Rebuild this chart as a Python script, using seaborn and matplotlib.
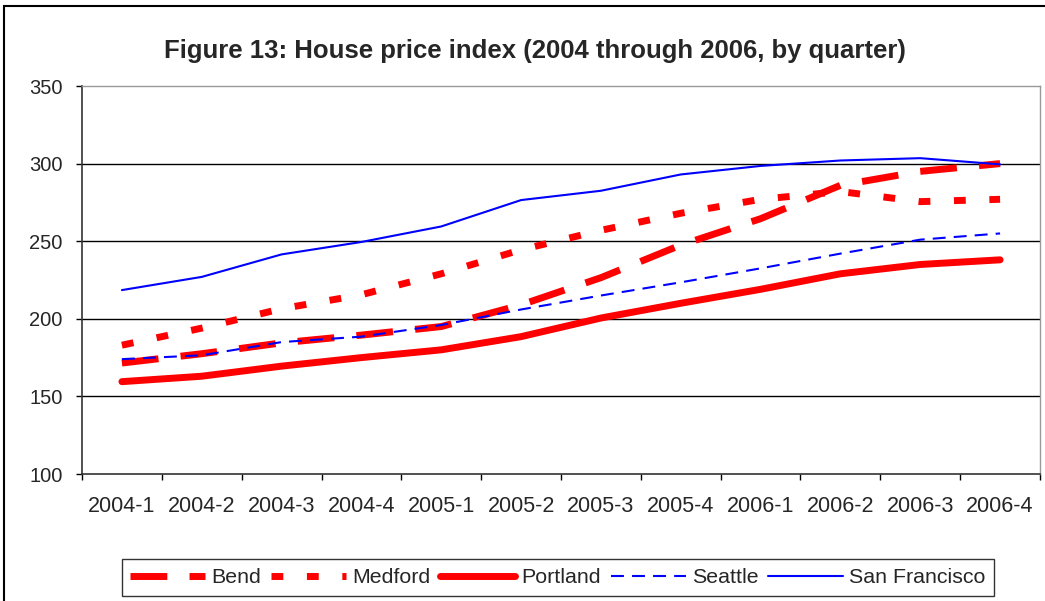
import matplotlib
matplotlib.use("Agg")
import matplotlib.pyplot as plt
import seaborn as sns
import pandas as pd
import numpy as np
from matplotlib.patches import Rectangle

quarters = ["2004-1", "2004-2", "2004-3", "2004-4", "2005-1", "2005-2",
            "2005-3", "2005-4", "2006-1", "2006-2", "2006-3", "2006-4"]
bend = [171.5, 177.5, 184.5, 189.5, 195.0, 209.0, 226.5, 247.5, 264.5, 286.0, 295.0, 300.0]
medford = [183.0, 194.0, 206.5, 215.5, 229.0, 244.5, 257.0, 268.0, 277.0, 282.0, 275.5, 277.0]
portland = [159.5, 163.0, 169.5, 175.0, 180.0, 188.5, 200.5, 210.0, 219.0, 229.0, 235.0, 238.0]
seattle = [174.0, 176.5, 185.0, 188.5, 196.0, 206.0, 215.0, 223.5, 232.5, 242.0, 251.0, 255.0]
san_francisco = [218.5, 227.0, 241.5, 249.5, 259.5, 276.5, 282.5, 293.0, 298.5, 302.0, 303.5, 299.5]

series_names = ["Bend", "Medford", "Portland", "Seattle", "San Francisco"]
series_values = [bend, medford, portland, seattle, san_francisco]
yticks = [100, 150, 200, 250, 300, 350]
title = "Figure 13: House price index (2004 through 2006, by quarter)"

styles = {
    "Bend": dict(color="#FF0000", linewidth=5.0, linestyle=(0, (5.3, 3.2)), dash_capstyle="butt"),
    "Medford": dict(color="#FF0000", linewidth=5.0, linestyle=(0, (1.7, 3.4)), dash_capstyle="butt"),
    "Portland": dict(color="#FF0000", linewidth=5.0, linestyle="-", solid_capstyle="round"),
    "Seattle": dict(color="#0000FF", linewidth=1.5, linestyle=(0, (6.2, 3.9)), dash_capstyle="butt"),
    "San Francisco": dict(color="#0000FF", linewidth=1.5, linestyle="-"),
}

sns.set_style("white")
plt.rcParams["font.family"] = ["Liberation Sans", "DejaVu Sans"]

fig = plt.figure(figsize=(10.45, 6.01), dpi=100)
ax = fig.add_axes([82 / 1045, 1 - 474 / 601, (1040 - 82) / 1045, (474 - 86) / 601])

x = np.arange(len(quarters))
for name, vals in zip(series_names, series_values):
    df = pd.DataFrame({"q": x, "v": vals})
    sns.lineplot(data=df, x="q", y="v", ax=ax, label=name, **styles[name])

ax.set_xlim(-0.5, len(quarters) - 0.5)
ax.set_ylim(100, 350)
ax.set_yticks(yticks)
ax.set_yticklabels([str(t) for t in yticks], fontsize=14.5)
ax.set_xticks(x)
ax.set_xticklabels(quarters, fontsize=15.5)
ax.set_xticks(np.arange(-0.5, len(quarters), 1.0), minor=True)
ax.tick_params(axis="x", which="major", length=0, pad=16)
ax.tick_params(axis="x", which="minor", length=4, width=1, color="black", direction="out", bottom=True)
ax.tick_params(axis="y", which="major", length=4, width=1, color="black", direction="out", left=True, pad=10)
ax.set_xlabel("")
ax.set_ylabel("")

for yv in yticks[1:-1]:
    ax.axhline(yv, color="black", linewidth=1.0, zorder=0.5)

for side in ["left", "bottom"]:
    ax.spines[side].set_color("#333333")
    ax.spines[side].set_linewidth(1.2)
for side in ["top", "right"]:
    ax.spines[side].set_color("#999999")
    ax.spines[side].set_linewidth(1.0)

fig.text(535 / 1045, 1 - 58 / 601, title, ha="center", va="baseline",
         fontsize=18.5, fontweight="bold")

handles, labels = ax.get_legend_handles_labels()
ax.get_legend().remove()
leg = fig.legend(handles, labels, loc="center", bbox_to_anchor=(558 / 1045, 1 - 577.5 / 601),
                 ncol=5, fontsize=15.4, frameon=True, fancybox=False, edgecolor="black",
                 handlelength=3.5, handletextpad=0.28, columnspacing=0.47,
                 borderpad=0.4, borderaxespad=0)
leg.get_frame().set_linewidth(1.0)

border = Rectangle((4 / 1045, -0.1), 1.2, 1 - 6 / 601 + 0.1, transform=fig.transFigure,
                   fill=False, edgecolor="black", linewidth=1.5, clip_on=False)
fig.patches.append(border)

fig.savefig("out.png", dpi=100, facecolor="white")
